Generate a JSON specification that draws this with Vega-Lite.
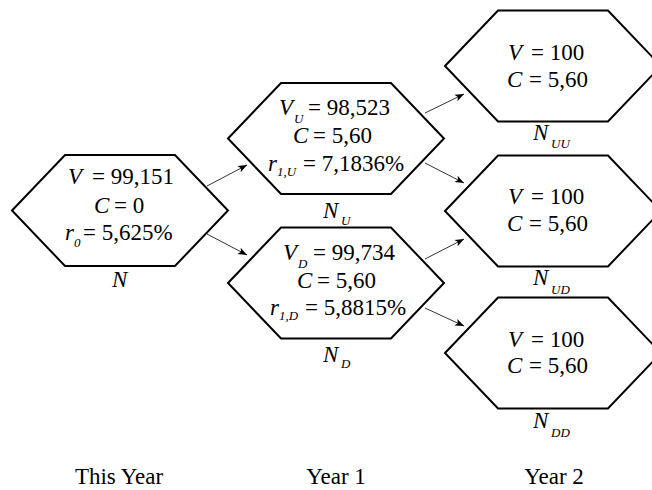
{
  "$schema": "https://vega.github.io/schema/vega-lite/v6.json",
  "width": 652,
  "height": 490,
  "autosize": "none",
  "padding": 0,
  "background": "white",
  "config": {"view": {"stroke": null}},
  "datasets": {
    "nodes": [
      {"node": "N", "x": 120, "y": 210.5},
      {"node": "N_U", "x": 336, "y": 138.5},
      {"node": "N_D", "x": 336, "y": 283},
      {"node": "N_UU", "x": 553, "y": 66},
      {"node": "N_UD", "x": 553, "y": 211},
      {"node": "N_DD", "x": 553, "y": 353}
    ],
    "arrows": [
      {"from": "N", "to": "N_U", "x": 207, "y": 186, "x2": 247, "y2": 165},
      {"from": "N", "to": "N_D", "x": 207, "y": 234, "x2": 247, "y2": 255},
      {"from": "N_U", "to": "N_UU", "x": 425, "y": 113, "x2": 464, "y2": 94},
      {"from": "N_U", "to": "N_UD", "x": 425, "y": 163, "x2": 464, "y2": 183},
      {"from": "N_D", "to": "N_UD", "x": 425, "y": 259, "x2": 464, "y2": 239},
      {"from": "N_D", "to": "N_DD", "x": 425, "y": 308, "x2": 464, "y2": 326}
    ],
    "texts": [
      {"part": "var", "t": "V", "x": 68, "y": 184},
      {"part": "val", "t": "= 99,151", "x": 92, "y": 184},
      {"part": "var", "t": "C", "x": 94, "y": 213},
      {"part": "val", "t": "= 0", "x": 114, "y": 213},
      {"part": "var", "t": "r", "x": 65, "y": 240},
      {"part": "sub", "t": "0", "x": 74, "y": 247},
      {"part": "val", "t": "= 5,625%", "x": 83, "y": 240},
      {"part": "var", "t": "N", "x": 112, "y": 287},

      {"part": "var", "t": "V", "x": 279, "y": 115},
      {"part": "sub", "t": "U", "x": 294, "y": 123},
      {"part": "val", "t": "= 98,523", "x": 308, "y": 115},
      {"part": "var", "t": "C", "x": 293, "y": 143},
      {"part": "val", "t": "= 5,60", "x": 313, "y": 143},
      {"part": "var", "t": "r", "x": 268, "y": 171},
      {"part": "sub", "t": "1,U", "x": 277, "y": 176},
      {"part": "val", "t": "= 7,1836%", "x": 303, "y": 171},
      {"part": "var", "t": "N", "x": 323, "y": 218},
      {"part": "sub", "t": "U", "x": 341, "y": 225},

      {"part": "var", "t": "V", "x": 283, "y": 260},
      {"part": "sub", "t": "D", "x": 298, "y": 268},
      {"part": "val", "t": "= 99,734", "x": 313, "y": 260},
      {"part": "var", "t": "C", "x": 297, "y": 288},
      {"part": "val", "t": "= 5,60", "x": 317, "y": 288},
      {"part": "var", "t": "r", "x": 270, "y": 315},
      {"part": "sub", "t": "1,D", "x": 279, "y": 320},
      {"part": "val", "t": "= 5,8815%", "x": 305, "y": 315},
      {"part": "var", "t": "N", "x": 323, "y": 362},
      {"part": "sub", "t": "D", "x": 341, "y": 368},

      {"part": "var", "t": "V", "x": 508, "y": 60},
      {"part": "val", "t": "= 100", "x": 531, "y": 60},
      {"part": "var", "t": "C", "x": 507, "y": 87},
      {"part": "val", "t": "= 5,60", "x": 529, "y": 87},
      {"part": "var", "t": "N", "x": 533, "y": 140},
      {"part": "sub", "t": "UU", "x": 551, "y": 148},

      {"part": "var", "t": "V", "x": 508, "y": 204},
      {"part": "val", "t": "= 100", "x": 531, "y": 204},
      {"part": "var", "t": "C", "x": 507, "y": 231},
      {"part": "val", "t": "= 5,60", "x": 529, "y": 231},
      {"part": "var", "t": "N", "x": 533, "y": 285},
      {"part": "sub", "t": "UD", "x": 551, "y": 294},

      {"part": "var", "t": "V", "x": 508, "y": 347},
      {"part": "val", "t": "= 100", "x": 531, "y": 347},
      {"part": "var", "t": "C", "x": 507, "y": 373},
      {"part": "val", "t": "= 5,60", "x": 529, "y": 373},
      {"part": "var", "t": "N", "x": 533, "y": 428},
      {"part": "sub", "t": "DD", "x": 551, "y": 437},

      {"part": "year", "t": "This Year", "x": 119, "y": 484},
      {"part": "year", "t": "Year 1", "x": 336, "y": 484},
      {"part": "year", "t": "Year 2", "x": 554, "y": 484}
    ]
  },
  "encoding": {
    "x": {"field": "x", "type": "quantitative", "scale": {"domain": [0, 652], "nice": false, "zero": false}, "axis": null},
    "y": {"field": "y", "type": "quantitative", "scale": {"domain": [0, 490], "nice": false, "zero": false, "reverse": true}, "axis": null}
  },
  "layer": [
    {
      "data": {"name": "nodes"},
      "mark": {
        "type": "point",
        "shape": "M -1 0 L -0.509 -0.514 L 0.509 -0.514 L 1 0 L 0.509 0.514 L -0.509 0.514 Z",
        "size": 46656,
        "filled": false,
        "stroke": "#000",
        "strokeWidth": 2,
        "opacity": 1,
        "strokeJoin": "miter"
      }
    },
    {
      "data": {"name": "arrows"},
      "mark": {"type": "rule", "color": "#000", "strokeWidth": 0.8},
      "encoding": {
        "x2": {"field": "x2"},
        "y2": {"field": "y2"}
      }
    },
    {
      "data": {"name": "arrows"},
      "transform": [
        {"calculate": "atan2(datum.y2 - datum.y, datum.x2 - datum.x) * 180 / PI", "as": "ang"}
      ],
      "mark": {
        "type": "point",
        "shape": "M 0 0 L -1 -0.4 L -0.75 0 L -1 0.4 Z",
        "size": 324,
        "filled": true,
        "color": "#000",
        "opacity": 1,
        "strokeWidth": 0
      },
      "encoding": {
        "x": {"field": "x2", "type": "quantitative"},
        "y": {"field": "y2", "type": "quantitative"},
        "angle": {"field": "ang", "type": "quantitative", "scale": null}
      }
    },
    {
      "data": {"name": "texts"},
      "transform": [{"filter": "datum.part == 'var'"}],
      "mark": {"type": "text", "font": "'Liberation Serif', 'DejaVu Serif', serif", "fontStyle": "italic", "fontSize": 23, "align": "left", "baseline": "alphabetic", "color": "#000"},
      "encoding": {"text": {"field": "t"}}
    },
    {
      "data": {"name": "texts"},
      "transform": [{"filter": "datum.part == 'val'"}],
      "mark": {"type": "text", "font": "'Liberation Serif', 'DejaVu Serif', serif", "fontSize": 23, "align": "left", "baseline": "alphabetic", "color": "#000"},
      "encoding": {"text": {"field": "t"}}
    },
    {
      "data": {"name": "texts"},
      "transform": [{"filter": "datum.part == 'sub'"}],
      "mark": {"type": "text", "font": "'Liberation Serif', 'DejaVu Serif', serif", "fontStyle": "italic", "fontSize": 13, "align": "left", "baseline": "alphabetic", "color": "#000"},
      "encoding": {"text": {"field": "t"}}
    },
    {
      "data": {"name": "texts"},
      "transform": [{"filter": "datum.part == 'year'"}],
      "mark": {"type": "text", "font": "'Liberation Serif', 'DejaVu Serif', serif", "fontSize": 23, "align": "center", "baseline": "alphabetic", "color": "#000"},
      "encoding": {"text": {"field": "t"}}
    }
  ]
}
